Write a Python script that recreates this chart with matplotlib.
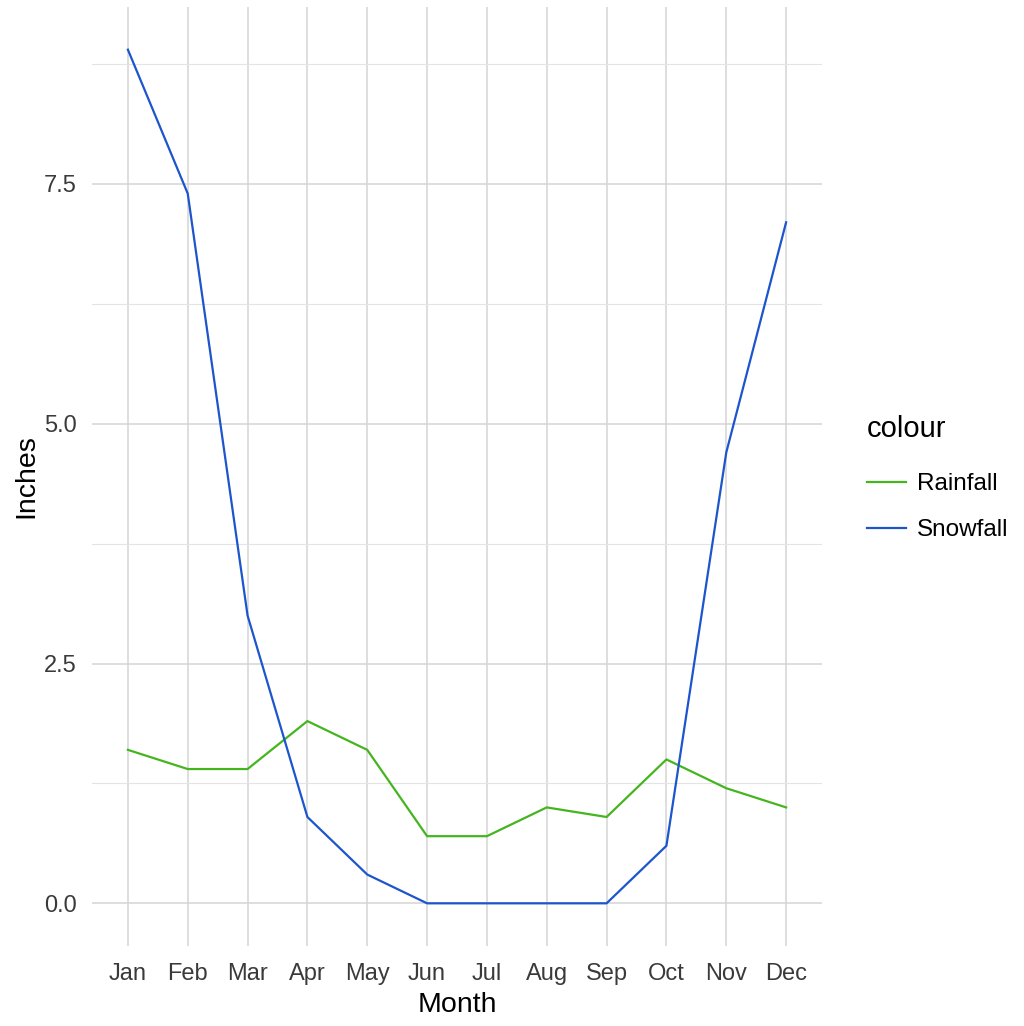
import matplotlib.pyplot as plt
from matplotlib.lines import Line2D

plt.rcParams['font.family'] = ['Liberation Sans', 'DejaVu Sans']

# ── Data ──────────────────────────────────────────────────────────────────────
months = ['Jan', 'Feb', 'Mar', 'Apr', 'May', 'Jun',
          'Jul', 'Aug', 'Sep', 'Oct', 'Nov', 'Dec']
rainfall = [1.6, 1.4, 1.4, 1.9, 1.6, 0.7, 0.7, 1.0, 0.9, 1.5, 1.2, 1.0]
snowfall = [8.9, 7.4, 3.0, 0.9, 0.3, 0.0, 0.0, 0.0, 0.0, 0.6, 4.7, 7.1]
y_ticks = [0.0, 2.5, 5.0, 7.5]
y_minor = [1.25, 3.75, 6.25, 8.75]

rain_col = '#45B51F'
snow_col = '#1D55CC'

# ── Plot ──────────────────────────────────────────────────────────────────────
fig = plt.figure(figsize=(10.24, 10.26), dpi=100)
ax = fig.add_axes([92 / 1024, 1 - 946 / 1026, (822 - 92) / 1024, (946 - 7) / 1026])

x = list(range(1, len(months) + 1))
ax.plot(x, rainfall, color=rain_col, lw=1.6, zorder=3)
ax.plot(x, snowfall, color=snow_col, lw=1.6, zorder=3)

ax.set_xlim(0.4, 12.6)
lo, hi = min(snowfall + rainfall), max(snowfall + rainfall)
pad = (hi - lo) * 0.05
ax.set_ylim(lo - pad, hi + pad)

ax.set_xticks(x)
ax.set_xticklabels(months)
ax.set_yticks(y_ticks)
ax.set_yticklabels([f'{v:.1f}' for v in y_ticks])
ax.set_yticks(y_minor, minor=True)

ax.grid(True, which='major', color='#D4D4D4', lw=1.1)
ax.grid(True, which='minor', axis='y', color='#E4E4E4', lw=0.8)
ax.set_axisbelow(True)
for s in ax.spines.values():
    s.set_visible(False)
ax.tick_params(which='both', length=0, labelsize=17, colors='#3A3A3A')
ax.tick_params(axis='x', pad=12)
ax.tick_params(axis='y', pad=11)

ax.set_xlabel('Month', fontsize=20.5, color='black', labelpad=5)
ax.set_ylabel('Inches', fontsize=20.5, color='black', labelpad=3)

handles = [Line2D([], [], color=rain_col, lw=1.6),
           Line2D([], [], color=snow_col, lw=1.6)]
leg = fig.legend(handles, ['Rainfall', 'Snowfall'], title='colour',
                 loc='center left', bbox_to_anchor=(845 / 1024, 1 - 478 / 1026),
                 frameon=False, fontsize=17.5, title_fontsize=21,
                 handlelength=1.6, handletextpad=0.45, labelspacing=1.0)
leg._legend_box.align = 'left'
leg._legend_box.sep = 22

plt.savefig('out.png', dpi=100)
